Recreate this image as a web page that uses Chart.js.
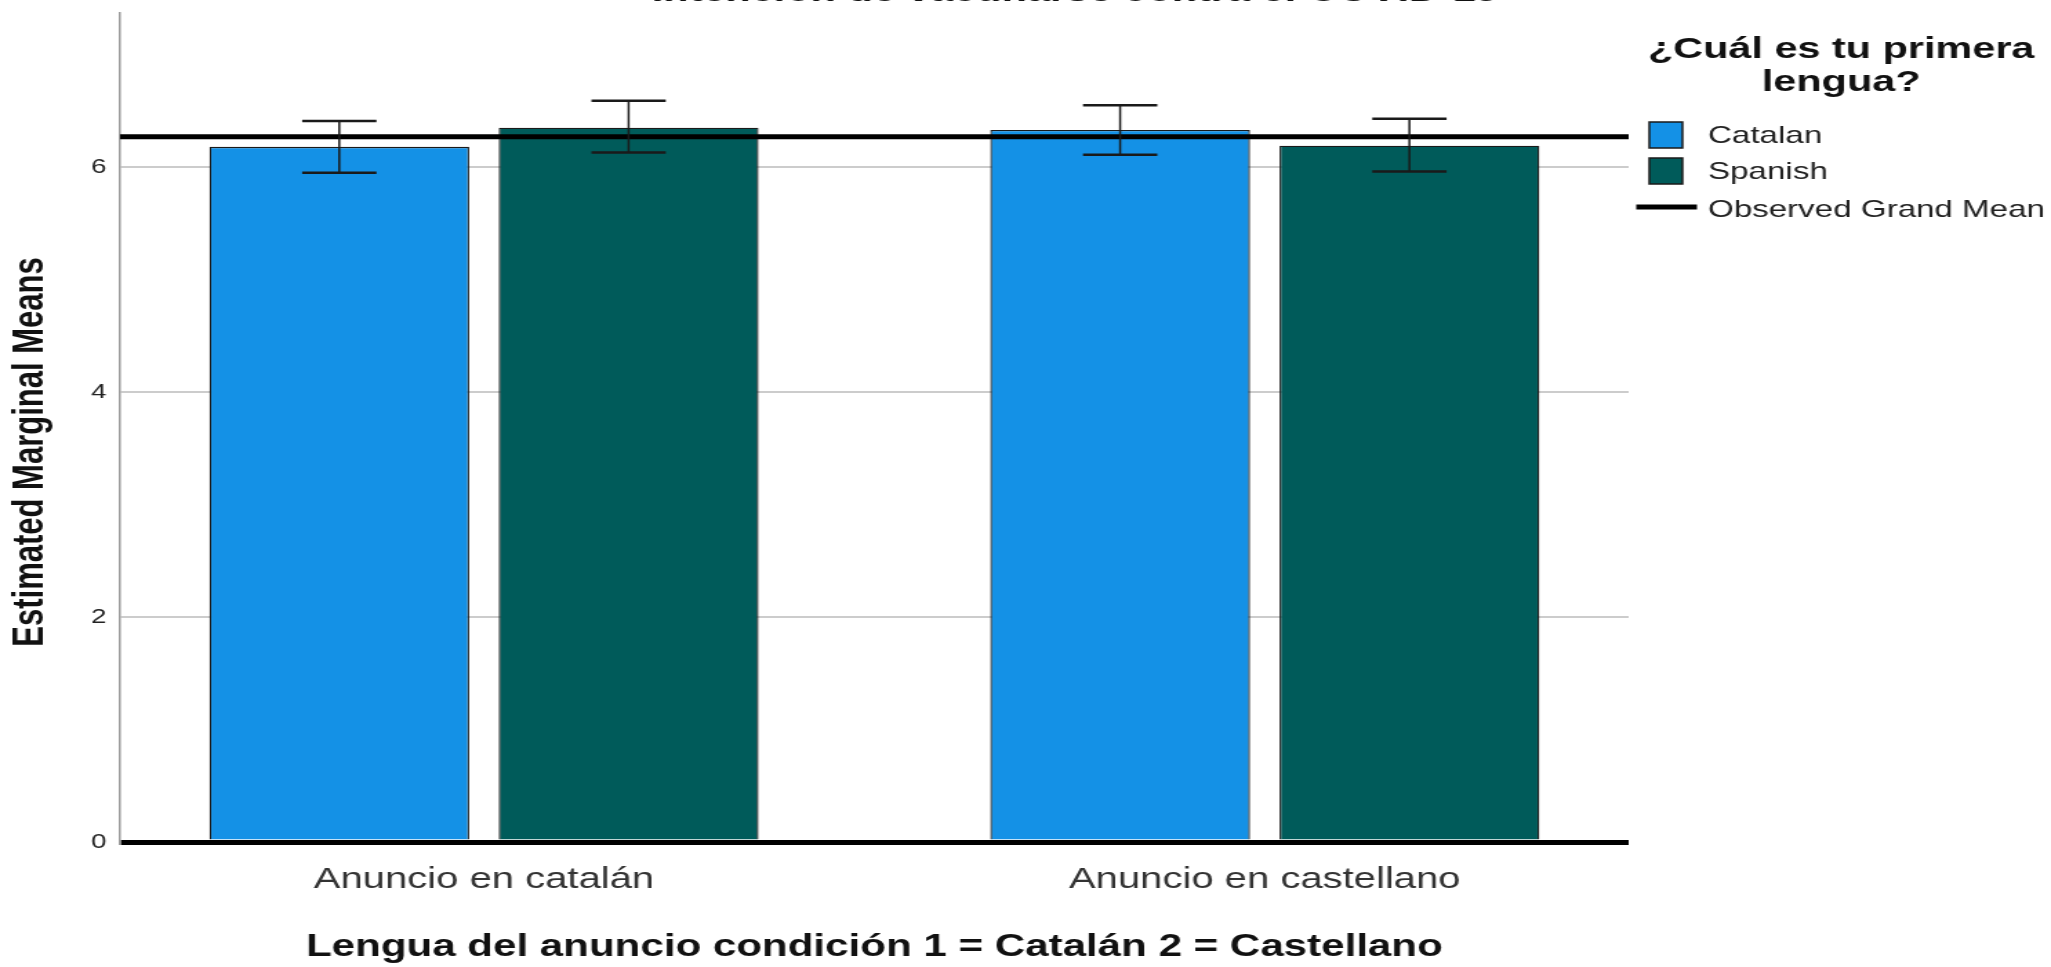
<!DOCTYPE html>
<html lang="es">
<head>
    <meta charset="UTF-8">
    <title>Estimated Marginal Means</title>
    <script src="https://cdn.jsdelivr.net/npm/chart.js@4.4.1/dist/chart.umd.min.js"></script>
    <style>
        html, body { margin: 0; padding: 0; background: #fff; overflow: hidden; }
        /* the original picture is stretched sideways, so the chart is drawn narrow and widened */
        #wrap { position: absolute; left: 0; top: 0; width: 1486px; height: 967px;
                transform: scaleX(1.3802); transform-origin: 0 0; }
    </style>
</head>
<body>
    <div id="wrap"><canvas id="emm-chart"></canvas></div>
    <script>
        const categories = ['Anuncio en catalán', 'Anuncio en castellano'];
        const catalanMeans = [6.18, 6.33];
        const catalanLow = [5.95, 6.11];
        const catalanHigh = [6.41, 6.55];
        const spanishMeans = [6.35, 6.19];
        const spanishLow = [6.13, 5.96];
        const spanishHigh = [6.59, 6.43];
        const grandMean = 6.27;
        const yTicks = [0, 2, 4, 6];

        const xMin = -0.466, xMax = 1.466;
        const FONT = '"Liberation Sans", Arial, sans-serif';

        // error bars drawn on top of each bar, from the low/high arrays
        const errorBars = {
            id: 'errorBars',
            afterDatasetsDraw(chart) {
                const ctx = chart.ctx;
                const y = chart.scales.y;
                chart.data.datasets.forEach((ds, i) => {
                    if (!ds.errLow) return;
                    chart.getDatasetMeta(i).data.forEach((bar, j) => {
                        const top = y.getPixelForValue(ds.errHigh[j]);
                        const bottom = y.getPixelForValue(ds.errLow[j]);
                        const half = bar.width * 0.143;
                        ctx.save();
                        ctx.strokeStyle = '#1a1a1a';
                        ctx.lineWidth = 1.5;
                        ctx.beginPath();
                        ctx.moveTo(bar.x, top);
                        ctx.lineTo(bar.x, bottom);
                        ctx.stroke();
                        ctx.lineWidth = 2.5;
                        ctx.beginPath();
                        ctx.moveTo(bar.x - half, top);
                        ctx.lineTo(bar.x + half, top);
                        ctx.moveTo(bar.x - half, bottom);
                        ctx.lineTo(bar.x + half, bottom);
                        ctx.stroke();
                        ctx.restore();
                    });
                });
            }
        };

        // chart title (cut at the top edge), y title and the legend block
        const extras = {
            id: 'extras',
            afterDraw(chart) {
                const ctx = chart.ctx;
                ctx.save();
                ctx.fillStyle = '#111';
                ctx.font = 'bold 30px ' + FONT;
                ctx.textAlign = 'center';
                ctx.textBaseline = 'alphabetic';
                ctx.fillText('Intención de vacunarse contra el COVID-19', 779, 1);

                ctx.save();
                ctx.translate(22.5, 452);
                ctx.rotate(-Math.PI / 2);
                ctx.textBaseline = 'middle';
                ctx.font = 'bold 31px ' + FONT;
                ctx.fillText('Estimated Marginal Means', 0, 0);
                ctx.restore();

                // legend
                ctx.textBaseline = 'middle';
                ctx.fillText('¿Cuál es tu primera', 1334, 50);
                ctx.fillText('lengua?', 1334, 83);
                ctx.font = '24px ' + FONT;
                ctx.textAlign = 'left';
                const rows = [135, 171, 209];
                chart.data.datasets.forEach((ds, i) => {
                    const cy = rows[i];
                    if (ds.type === 'line') {
                        ctx.strokeStyle = ds.borderColor;
                        ctx.lineWidth = 5;
                        ctx.beginPath();
                        ctx.moveTo(1185.5, cy - 2);
                        ctx.lineTo(1229.5, cy - 2);
                        ctx.stroke();
                    } else {
                        ctx.fillStyle = ds.backgroundColor;
                        ctx.fillRect(1195, cy - 13, 24, 26);
                        ctx.strokeStyle = '#1a1a1a';
                        ctx.lineWidth = 1.5;
                        ctx.strokeRect(1195, cy - 13, 24, 26);
                    }
                    ctx.fillStyle = '#222';
                    ctx.fillText(ds.label, 1237.5, cy + 1);
                });
                ctx.restore();
            }
        };

        const ctx = document.getElementById('emm-chart').getContext('2d');
        const chart = new Chart(ctx, {
            type: 'bar',
            data: {
                datasets: [{
                    label: 'Catalan',
                    data: catalanMeans.map((v, i) => ({ x: i, y: v })),
                    errLow: catalanLow,
                    errHigh: catalanHigh,
                    backgroundColor: '#1491e6',
                    borderColor: '#1a1a1a',
                    borderWidth: 1.3,
                    order: 1
                }, {
                    label: 'Spanish',
                    data: spanishMeans.map((v, i) => ({ x: i, y: v })),
                    errLow: spanishLow,
                    errHigh: spanishHigh,
                    backgroundColor: '#005b5a',
                    borderColor: '#1a1a1a',
                    borderWidth: 1.3,
                    order: 1
                }, {
                    type: 'line',
                    label: 'Observed Grand Mean',
                    data: [{ x: xMin, y: grandMean }, { x: xMax, y: grandMean }],
                    borderColor: '#000',
                    borderWidth: 5,
                    pointRadius: 0,
                    order: 0
                }]
            },
            options: {
                responsive: true,
                maintainAspectRatio: false,
                animation: false,
                categoryPercentage: 0.741,
                barPercentage: 0.898,
                layout: { padding: { top: 13, right: 306, bottom: 0, left: 0 } },
                plugins: {
                    legend: { display: false },
                    tooltip: { enabled: false }
                },
                scales: {
                    x: {
                        type: 'linear',
                        min: xMin,
                        max: xMax,
                        offset: false,
                        grid: { display: false },
                        border: { display: false },
                        afterBuildTicks: (scale) => { scale.ticks = categories.map((c, i) => ({ value: i })); },
                        afterFit: (scale) => { scale.height = 125; scale.paddingLeft = 0; scale.paddingRight = 0; },
                        ticks: {
                            autoSkip: false,
                            maxRotation: 0,
                            padding: 13,
                            color: '#333',
                            font: { family: FONT, size: 29 },
                            callback: (v, i) => categories[i]
                        },
                        title: {
                            display: true,
                            text: 'Lengua del anuncio condición 1 = Catalán 2 = Castellano',
                            color: '#111',
                            font: { family: FONT, size: 30.5, weight: 'bold' },
                            padding: { top: 0, bottom: 1 }
                        }
                    },
                    y: {
                        min: 0,
                        max: 7.37,
                        afterBuildTicks: (scale) => { scale.ticks = yTicks.map(v => ({ value: v })); },
                        afterFit: (scale) => { scale.width = 87; scale.paddingTop = 0; scale.paddingBottom = 0; },
                        grid: {
                            drawTicks: false,
                            color: (c) => c.tick && c.tick.value === 0 ? '#000' : '#cccccc',
                            lineWidth: (c) => c.tick && c.tick.value === 0 ? 5 : 2
                        },
                        border: { color: '#9a9a9a', width: 1.5 },
                        ticks: {
                            padding: 10,
                            color: '#222',
                            font: { family: FONT, size: 20 }
                        }
                    }
                }
            },
            plugins: [errorBars, extras]
        });
    </script>
</body>
</html>
